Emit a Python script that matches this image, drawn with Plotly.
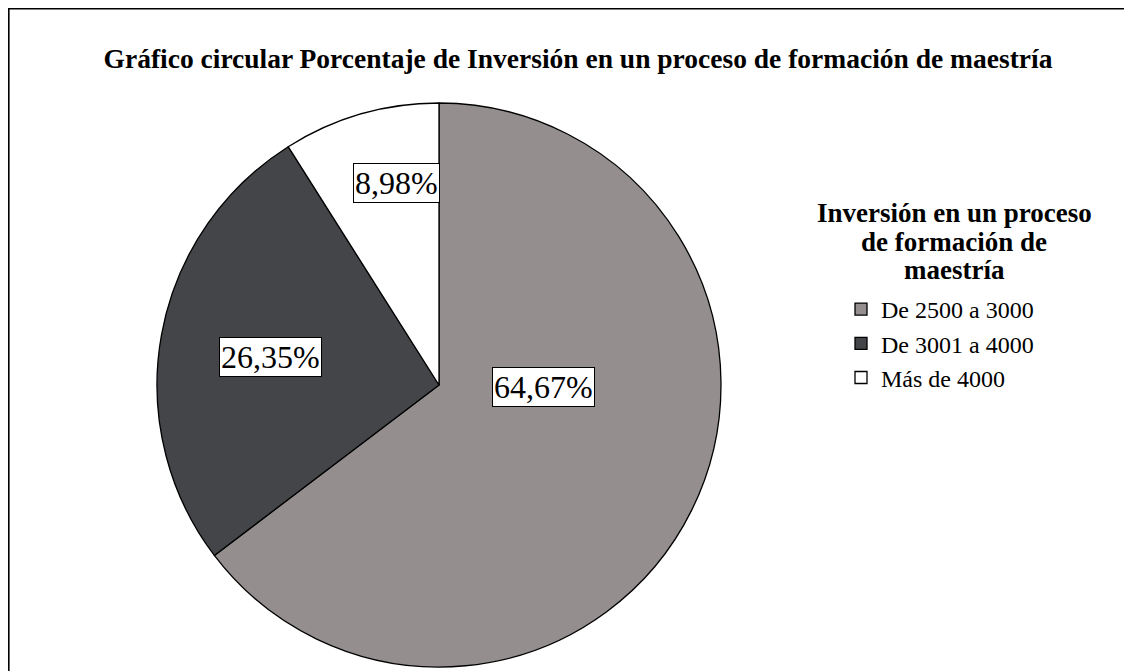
import plotly.graph_objects as go

categorias = ["De 2500 a 3000", "De 3001 a 4000", "Más de 4000"]
porcentajes = [64.67, 26.35, 8.98]
colores = ["#948f8e", "#434548", "#ffffff"]
titulo_leyenda = ["Inversión en un proceso", "de formación de", "maestría"]

SERIF = "Liberation Serif"
W, H = 1132, 671

# posiciones de las etiquetas (paper)
pos_etiquetas = [(535 / W, 1 - 379 / H), (262 / W, 1 - 349 / H), (388 / W, 1 - 175.5 / H)]
pos_titulo_leyenda = [205, 234, 262]

fig = go.Figure()
fig.add_trace(go.Pie(
    labels=categorias,
    values=porcentajes,
    sort=False,
    direction="clockwise",
    rotation=0,
    marker=dict(colors=colores, line=dict(color="#000000", width=1.3)),
    textinfo="none",
    hoverinfo="label+percent",
    domain=dict(x=[149 / W, 713 / W], y=[1 - 659 / H, 1 - 95 / H]),
))

for v, (px_, py_) in zip(porcentajes, pos_etiquetas):
    fig.add_annotation(
        x=px_, y=py_, xref="paper", yref="paper",
        xanchor="center", yanchor="middle",
        text=f"{v:.2f}%".replace(".", ","),
        showarrow=False,
        font=dict(family=SERIF, size=32, color="#000000"),
        bgcolor="#ffffff", bordercolor="#000000", borderwidth=1, borderpad=1,
    )

# titulo de la leyenda, linea por linea
for linea, yy in zip(titulo_leyenda, pos_titulo_leyenda):
    fig.add_annotation(
        x=946 / W, y=1 - yy / H, xref="paper", yref="paper",
        xanchor="center", yanchor="middle",
        text=f"<b>{linea}</b>", showarrow=False,
        font=dict(family=SERIF, size=27, color="#000000"),
    )

fig.add_shape(type="rect", xref="paper", yref="paper",
              x0=0.6 / W, x1=1.02, y0=-0.02, y1=1 - 0.6 / H,
              line=dict(color="#000000", width=2))

fig.update_layout(
    width=W, height=H,
    margin=dict(l=0, r=0, t=0, b=0),
    paper_bgcolor="#ffffff",
    plot_bgcolor="#ffffff",
    title=dict(
        text="<b>Gráfico circular Porcentaje de Inversión en un proceso de formación de maestría</b>",
        x=570 / W, xanchor="center", y=1 - 50 / H, yanchor="middle",
        font=dict(family=SERIF, size=27.5, color="#000000"),
    ),
    legend=dict(
        x=833 / W, xanchor="left", y=1 - 279 / H, yanchor="top",
        font=dict(family=SERIF, size=24, color="#000000"),
        bgcolor="rgba(0,0,0,0)",
        itemwidth=30,
        tracegroupgap=0,
    ),
)

fig.write_html("out.html")
